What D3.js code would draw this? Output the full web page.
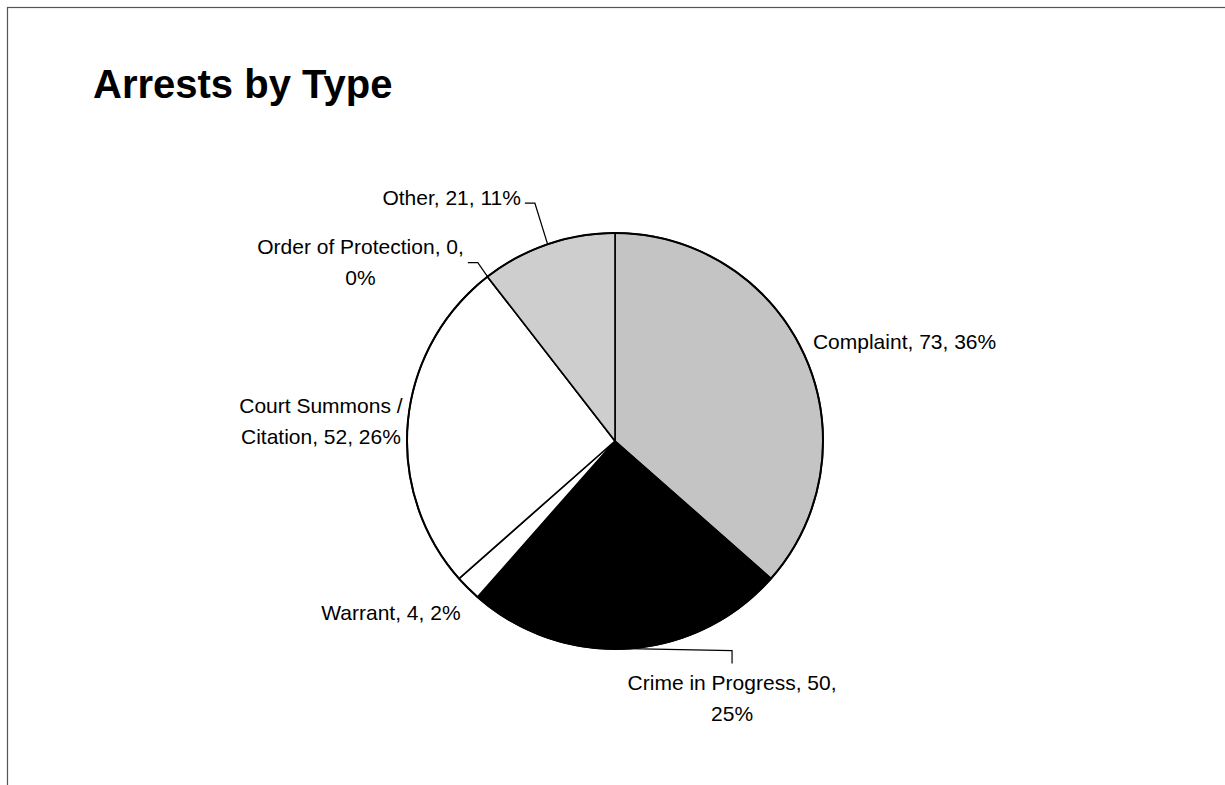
<!DOCTYPE html>
<html>
<head>
<meta charset="utf-8">
<script src="https://cdn.jsdelivr.net/npm/d3@7"></script>
<style>
  html, body { margin: 0; padding: 0; background: #fff; }
  svg { display: block; }
  text { font-family: "Liberation Sans", Arial, sans-serif; fill: #000; }
</style>
</head>
<body>
<div id="chart"></div>
<script>
(function(){
  'use strict';

  // data
  var categories = ['Complaint', 'Crime in Progress', 'Warrant', 'Court Summons / Citation', 'Order of Protection', 'Other'];
  var counts = [73, 50, 4, 52, 0, 21];
  var percents = [36, 25, 2, 26, 0, 11];
  var fills = ['#c4c4c4', '#000000', '#ffffff', '#ffffff', '#ffffff', '#cecece'];

  var width = 1225, height = 785;
  var cx = 615, cy = 441, radius = 208;

  // label layout: offset from the slice's mid point on the rim, wrap width, leader type
  var labelLayout = {
    'Complaint':                { dx: 100, dy: -6,  wrap: 400, leader: null },
    'Crime in Progress':        { dx: 104, dy: 41,  wrap: 220, leader: 'top' },
    'Warrant':                  { dx: -77, dy: 32,  wrap: 400, leader: null },
    'Court Summons / Citation': { dx: -87, dy: -8,  wrap: 175, leader: null },
    'Order of Protection':      { dx: -127, dy: -23, wrap: 215, leader: 'side' },
    'Other':                    { dx: -96, dy: -39, wrap: 400, leader: 'side' }
  };
  var lineHeight = 31;

  var svg = d3.select('#chart').append('svg')
    .attr('width', width)
    .attr('height', height);

  // outer frame (only top and left edges are visible in the crop)
  svg.append('rect')
    .attr('x', 7.5).attr('y', 7.5)
    .attr('width', 1400).attr('height', 1000)
    .attr('fill', 'none')
    .attr('stroke', '#555')
    .attr('stroke-width', 1.2);

  svg.append('text')
    .attr('x', 93)
    .attr('y', 98)
    .style('font-size', '40px')
    .style('font-weight', 'bold')
    .text('Arrests by Type');

  var data = categories.map(function(c, i) {
    return { name: c, count: counts[i], pct: percents[i], fill: fills[i] };
  });

  var pie = d3.pie()
    .sort(null)
    .value(function(d) { return d.count; });

  var arc = d3.arc().innerRadius(0).outerRadius(radius);
  var rim = d3.arc().innerRadius(radius).outerRadius(radius);

  var arcs = pie(data);

  var g = svg.append('g').attr('transform', 'translate(' + cx + ',' + cy + ')');

  g.selectAll('path.slice')
    .data(arcs).enter()
    .append('path')
    .attr('class', 'slice')
    .attr('d', arc)
    .attr('fill', function(d) { return d.data.fill; })
    .attr('stroke', '#000')
    .attr('stroke-width', 1.6)
    .attr('stroke-linejoin', 'round');

  // rim outline
  g.append('circle')
    .attr('r', radius)
    .attr('fill', 'none')
    .attr('stroke', '#000')
    .attr('stroke-width', 2);

  // labels
  var labels = g.selectAll('g.label')
    .data(arcs).enter()
    .append('g')
    .attr('class', 'label');

  labels.each(function(d) {
    var lay = labelLayout[d.data.name];
    var p = rim.centroid(d);
    var x = p[0] + lay.dx, y = p[1] + lay.dy;
    var full = d.data.name + ', ' + d.data.count + ', ' + d.data.pct + '%';
    var words = full.split(' ');

    var t = d3.select(this).append('text')
      .attr('text-anchor', 'middle')
      .style('font-size', '21px');

    // simple word wrap
    var lines = [], cur = [];
    var probe = t.append('tspan');
    words.forEach(function(w) {
      cur.push(w);
      probe.text(cur.join(' '));
      if (probe.node().getComputedTextLength() > lay.wrap && cur.length > 1) {
        cur.pop();
        lines.push(cur.join(' '));
        cur = [w];
      }
    });
    lines.push(cur.join(' '));
    probe.remove();

    lines.forEach(function(line, i) {
      t.append('tspan')
        .attr('x', x)
        .attr('y', y + i * lineHeight)
        .text(line);
    });

    if (lay.leader) {
      var pts;
      if (lay.leader === 'side') {
        var firstW = t.select('tspan').node().getComputedTextLength();
        var sx = x + firstW / 2 + 4;
        var sy = lines.length > 1 ? y + 9 : y - 2;
        pts = [[sx, sy], [sx + 10, sy], p];
      } else {
        var tx = x, ty = y - 26;
        pts = [[tx, ty], [tx, ty - 13], p];
      }
      d3.select(this).append('path')
        .attr('d', d3.line()(pts))
        .attr('fill', 'none')
        .attr('stroke', '#000')
        .attr('stroke-width', 1.2);
    }
  });

})();
</script>
</body>
</html>
